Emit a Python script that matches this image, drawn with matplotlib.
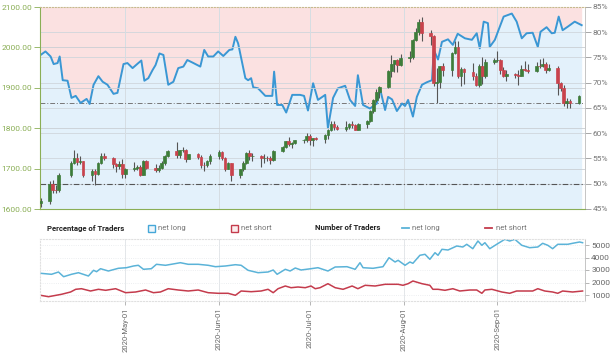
import matplotlib
matplotlib.use("Agg")
import matplotlib.pyplot as plt
import matplotlib.dates as mdates
from matplotlib.patches import Rectangle
from matplotlib.lines import Line2D
from matplotlib.ticker import FuncFormatter
import pandas as pd

plt.rcParams['font.family'] = ['Roboto', 'DejaVu Sans']

start = pd.Timestamp("2020-04-03")

# daily candles, Good Friday missing
candle_dates = pd.bdate_range("2020-04-03", "2020-09-28").drop(pd.Timestamp("2020-04-10"))
opens = [1614, 1620, 1662, 1647, 1646, 1685, 1714, 1727, 1716, 1718, 1683, 1695, 1686, 1714, 1731, 1727, 1712, 1707, 1712,
         1686, 1700, 1702, 1705, 1685, 1718, 1702, 1697, 1701, 1715, 1731, 1743, 1734, 1745, 1747, 1725, 1735, 1728, 1709, 1708, 1719,
         1730, 1740, 1727, 1699, 1713, 1685, 1698, 1715, 1738, 1730, 1731, 1726, 1727, 1726, 1722, 1743, 1754, 1768, 1762, 1763, 1771, 1772,
         1781, 1770, 1775, 1774, 1784, 1795, 1810, 1803, 1799, 1802, 1810, 1808, 1796, 1810, 1818, 1842, 1871, 1889, 1902, 1942, 1958, 1969, 1957,
         1975, 1976, 2019, 2038, 2063, 2035, 2029, 1911, 1915, 1954, 1944, 1986, 2001, 1930, 1946, 1940, 1928, 1908, 1954, 1930, 1964,
         1968, 1970, 1944, 1930, 1934, 1932, 1930, 1947, 1945, 1941, 1955, 1954, 1960, 1944, 1950, 1912, 1900, 1863, 1868, 1862]
highs = [1627, 1670, 1671, 1660, 1690, 1720, 1747, 1738, 1731, 1719, 1698, 1698, 1716, 1739, 1738, 1729, 1715, 1718, 1723,
         1702, 1716, 1709, 1708, 1722, 1722, 1712, 1708, 1718, 1734, 1745, 1765, 1746, 1753, 1749, 1737, 1738, 1734, 1716, 1722, 1737,
         1745, 1744, 1729, 1716, 1714, 1700, 1720, 1740, 1745, 1738, 1733, 1735, 1732, 1732, 1745, 1756, 1769, 1779, 1767, 1772, 1774, 1789,
         1785, 1776, 1778, 1786, 1797, 1818, 1817, 1808, 1817, 1814, 1818, 1810, 1814, 1820, 1844, 1873, 1898, 1905, 1945, 1981, 1970, 1972, 1984,
         1992, 2021, 2049, 2070, 2075, 2042, 2031, 1949, 1955, 1962, 1988, 2015, 2016, 1951, 1948, 1961, 1937, 1960, 1977, 1972, 1975,
         1992, 1972, 1951, 1945, 1937, 1945, 1957, 1966, 1960, 1965, 1972, 1974, 1963, 1960, 1955, 1915, 1906, 1875, 1873, 1882]
lows = [1606, 1612, 1640, 1640, 1642, 1680, 1712, 1708, 1712, 1680, 1670, 1659, 1683, 1712, 1721, 1702, 1691, 1700, 1676,
        1677, 1694, 1697, 1682, 1683, 1700, 1692, 1692, 1700, 1709, 1729, 1726, 1727, 1740, 1717, 1724, 1723, 1701, 1693, 1705, 1712,
        1725, 1722, 1693, 1698, 1670, 1677, 1693, 1711, 1722, 1720, 1705, 1715, 1720, 1712, 1718, 1740, 1750, 1757, 1750, 1760, 1763, 1766,
        1758, 1757, 1771, 1763, 1774, 1793, 1796, 1795, 1794, 1797, 1800, 1795, 1795, 1800, 1815, 1838, 1864, 1875, 1900, 1926, 1940, 1940, 1954,
        1965, 1971, 2017, 2031, 2015, 2006, 1905, 1863, 1900, 1930, 1930, 1983, 1925, 1905, 1910, 1920, 1905, 1903, 1910, 1925, 1960,
        1964, 1935, 1926, 1917, 1925, 1907, 1929, 1941, 1937, 1939, 1950, 1952, 1936, 1941, 1882, 1891, 1855, 1849, 1850, 1859]
closes = [1620, 1662, 1647, 1646, 1683, 1714, 1727, 1716, 1718, 1683, 1695, 1686, 1714, 1731, 1727, 1712, 1707, 1712, 1686,
          1700, 1702, 1705, 1685, 1718, 1702, 1697, 1701, 1715, 1731, 1743, 1734, 1745, 1747, 1725, 1735, 1728, 1709, 1708, 1719, 1730,
          1740, 1727, 1699, 1713, 1685, 1698, 1715, 1738, 1730, 1731, 1726, 1727, 1726, 1722, 1743, 1754, 1768, 1762, 1763, 1771, 1772, 1781,
          1770, 1775, 1774, 1784, 1795, 1810, 1803, 1799, 1802, 1810, 1808, 1796, 1810, 1818, 1842, 1871, 1889, 1902, 1942, 1958, 1969, 1957, 1975,
          1976, 2019, 2038, 2063, 2035, 2029, 1911, 1915, 1954, 1944, 1986, 2001, 1930, 1946, 1940, 1928, 1908, 1954, 1930, 1964, 1968,
          1970, 1944, 1930, 1934, 1932, 1930, 1947, 1945, 1941, 1955, 1954, 1960, 1944, 1950, 1912, 1900, 1863, 1868, 1862, 1880]

# % of traders net long (days after start)
long_pct_day = [0, 1.6, 3.3, 4.3, 5.6, 6.3, 7.3, 8.9, 10.2, 11.6,
                13.2, 15.2, 16.2, 17.5, 19.1, 20.5, 22.1, 24.1, 25.4, 27.4,
                28.7, 30.4, 32.3, 33.3, 34.3, 35.6, 37, 38, 39.3, 40.6,
                42.2, 43.9, 45.5, 47.2, 48.5, 50.2, 52.8, 54.1, 55.4, 57.1,
                58.7, 60.4, 62.4, 63.4, 64.4, 65.3, 67.7, 68.6, 69.6, 70.3,
                71.9, 74.3, 76.6, 77.2, 78.2, 79.9, 81.2, 83.2, 85.8, 87.1,
                88.4, 90.1, 91.7, 94.1, 95, 96.7, 98.3, 100.7, 102.3, 104,
                104.9, 106.6, 108.9, 111.2, 112.2, 113.9, 114.9, 116.2, 117.8, 119.5,
                120.5, 121.5, 123.1, 124.4, 126.1, 127.7, 129.4, 130, 131.4, 132.7,
                134.7, 136.3, 137.9, 140.3, 142.6, 144.2, 145.2, 146.5, 147.9, 148.5,
                150.2, 151.2, 153.1, 155.8, 157.4, 159.1, 160.7, 162.7, 164.4, 165.3,
                167.3, 169, 170, 171.3, 172.6, 174.3, 176.6, 178.9]
long_pct = [75.5, 76.2, 75.2, 73.7, 73.9, 75.2, 70.5, 70.4, 67, 67.4,
            66, 66.8, 65.8, 69.6, 71.3, 70.2, 69.6, 67.8, 68, 73.7,
            73.9, 72.9, 73.9, 74.4, 70.4, 70.9, 72.5, 73.5, 75.8, 75.5,
            69.6, 70.2, 72.9, 73.2, 74.5, 74, 73.2, 76.5, 75.2, 75.2,
            76.2, 75.3, 76.5, 76.6, 79.1, 77.8, 70.9, 70.5, 70.9, 69.1,
            68.9, 67.4, 67.4, 72.2, 65.6, 65.6, 64.1, 67.6, 67.6, 67.4,
            64.5, 69.9, 66.6, 67.6, 61, 67, 68.9, 69.4, 66.6, 65.4,
            71.5, 65.6, 64.9, 65.9, 68.9, 64.6, 67.2, 66.7, 64.4, 65.9,
            65.4, 66.6, 63.3, 67.2, 69.6, 70.1, 70.5, 76.5, 74.6, 78.1,
            78.6, 77.5, 79.7, 78.8, 78.5, 79.8, 76.8, 82.1, 81.8, 77.1,
            78.5, 80.1, 83.1, 83.7, 82.1, 78.8, 79.8, 79.9, 77.1, 80.1,
            81, 79.8, 79.9, 83.1, 80.4, 81.1, 82.1, 81.4]

# number of traders
long_cnt_day = [0, 3.6, 5.9, 7.6, 10.2, 12.5, 15.8, 17.5, 18.5, 19.8,
                22.4, 25.7, 28.4, 30.7, 32.3, 34, 36.6, 38.3, 41.3, 43.2,
                46.2, 48.8, 52.1, 55.4, 57.8, 61.1, 64.4, 66.3, 68.6, 71.9,
                75.2, 76.9, 78.2, 80.9, 82.5, 84.2, 86.1, 89.4, 91.7, 95,
                97.4, 101.3, 104, 105.6, 106.6, 109.9, 113.2, 115.2, 117.2, 118.2,
                120.5, 122.1, 123.1, 125.4, 127.1, 128.7, 130.4, 131.4, 132.7, 134.7,
                137.6, 139.6, 140.9, 142.9, 144.6, 145.9, 146.9, 148.5, 150.8, 153.5,
                155.1, 156.8, 159.1, 161.7, 164.4, 166, 167.7, 169.3, 171, 174.3,
                175.9, 178.2, 179.2]
long_cnt = [2736, 2656, 2840, 2464, 2656, 2784, 2520, 2976, 2864, 3104,
            2920, 3136, 3184, 3320, 3376, 3056, 3104, 3456, 3376, 3456,
            3584, 3456, 3456, 3376, 3264, 3320, 3424, 3376, 2976, 2784,
            2840, 3000, 2656, 3056, 2920, 3160, 3000, 3104, 3184, 2920,
            3240, 3264, 3056, 3584, 3184, 3136, 3264, 3984, 3640, 3776,
            3376, 3640, 3536, 4176, 4256, 3856, 4384, 4176, 4656, 4600,
            4920, 4840, 5056, 4704, 5320, 4976, 5184, 4704, 5056, 5456,
            5320, 5456, 4976, 4784, 4840, 5136, 4976, 4704, 5056, 5056,
            5136, 5240, 5184]
short_cnt_day = [0, 2.6, 6.9, 9.9, 11.6, 13.5, 16.5, 19.1, 21.5, 24.8,
                 28.1, 31.4, 34.7, 37.3, 39.6, 42.2, 45.5, 48.8, 52.1, 55.4,
                 58.7, 62, 64.4, 66.3, 69.6, 72.9, 75.2, 76.9, 78.5, 80.9,
                 82.8, 85.1, 87.5, 89.4, 90.8, 92.4, 95, 97.4, 100, 103,
                 104.9, 107.3, 110.6, 113.9, 116.5, 118.2, 119.8, 121.5, 123.1, 126.1,
                 128.7, 129.7, 131.4, 133.7, 136.3, 138.6, 141.9, 144.2, 145.9, 146.9,
                 149.2, 152.5, 155.1, 157.4, 160.1, 162.7, 164.4, 166.7, 169.3, 171,
                 172.6, 175.9, 179.2]
short_cnt = [976, 864, 1056, 1240, 1456, 1504, 1320, 1456, 1376, 1504,
             1184, 1240, 1400, 1184, 1240, 1504, 1400, 1320, 1400, 1184,
             1136, 1136, 976, 1320, 1264, 1320, 1456, 1184, 1504, 1720,
             1584, 1640, 1584, 1720, 1504, 1584, 1904, 1584, 1456, 1720,
             1504, 1776, 1720, 1856, 1856, 1856, 1776, 1904, 2120, 1904,
             1776, 1456, 1456, 1376, 1504, 1320, 1400, 1400, 1136, 1400,
             1456, 1240, 1136, 1320, 1320, 1320, 1504, 1320, 1240, 1136,
             1320, 1240, 1320]

def to_dates(days):
    return start + pd.to_timedelta(days, unit="D")

GREEN_AX = "#8aae55"
GRID = "#d5dde3"
TXT = "#777777"
xmin, xmax = start - pd.Timedelta(hours=5), start + pd.Timedelta(days=180)
months = pd.date_range("2020-05-01", "2020-09-01", freq="MS")

fig = plt.figure(figsize=(6.15, 3.55), dpi=100)
ax = fig.add_axes([40/615, 1-209/355, 545/615, 202/355])
ax2 = ax.twinx()
ax.set_zorder(ax2.get_zorder() + 1)
ax.patch.set_visible(False)

# sentiment background
pd_dates = to_dates(long_pct_day)
ax2.fill_between(pd_dates, long_pct, 45, color="#e3f1fb", lw=0, zorder=0)
ax2.fill_between(pd_dates, long_pct, 85, color="#fbe1e1", lw=0, zorder=0)
ax2.plot(pd_dates, long_pct, color="#3a97d4", lw=1.4, zorder=3)
ax2.set_ylim(45, 85)
ax2.set_yticks(range(45, 90, 5))
ax2.yaxis.set_major_formatter(FuncFormatter(lambda v, p: f"{v:.0f}%"))
for v in range(50, 85, 5):
    ax2.axhline(v, color="#cfd6dc", lw=0.6, zorder=1)
ax2.axhline(50, color="#555555", lw=0.8, ls=(0, (5, 2, 1, 2)), zorder=2)
ax2.axhline(66, color="#777777", lw=0.7, ls=(0, (5, 2, 1, 2)), zorder=2)
for m in months:
    ax2.axvline(m, color=GRID, lw=0.7, zorder=1)

# candles
up = [c >= o for o, c in zip(opens, closes)]
cols = ["#3e7d3a" if u else "#c9434d" for u in up]
ax.vlines(candle_dates, lows, highs, color="#555555", lw=0.8, zorder=3)
ax.bar(candle_dates, [c - o for o, c in zip(opens, closes)], bottom=opens, width=0.9,
       color=cols, edgecolor=cols, lw=0.5, zorder=4)
ax.set_ylim(1600, 2100)
ax.set_yticks(range(1600, 2101, 100))
ax.yaxis.set_major_formatter(FuncFormatter(lambda v, p: f"{v:.2f}"))
for v in range(1700, 2100, 100):
    ax.axhline(v, color="#c9cfd4", lw=0.6, zorder=1)
ax.set_xlim(xmin, xmax)
ax.set_xticks([])

ax.tick_params(axis="y", colors=GREEN_AX, labelsize=6, length=4, width=0.6, pad=1.5)
ax2.tick_params(axis="y", colors="#999999", labelcolor=TXT, labelsize=6, length=4, width=0.6, pad=1.5)
ax.spines["left"].set_color(GREEN_AX)
ax.spines["bottom"].set_color(GREEN_AX)
ax.spines["top"].set_color("#c7b98e")
ax.spines["top"].set_linestyle(":")
ax.spines["right"].set_visible(False)
for s in ["left", "bottom", "top"]:
    ax2.spines[s].set_visible(False)
ax2.spines["right"].set_color("#bbbbbb")
ax2.spines["right"].set_linewidth(0.6)

# bottom panel: number of traders
ax3 = fig.add_axes([40/615, 1-301/355, 545/615, 62/355])
ax3.plot(to_dates(long_cnt_day), long_cnt, color="#5bb3d8", lw=1.1)
ax3.plot(to_dates(short_cnt_day), short_cnt, color="#c43b4c", lw=1.1)
ax3.set_ylim(520, 5480)
ax3.set_yticks(range(1000, 5001, 1000))
ax3.yaxis.tick_right()
ax3.set_xlim(xmin, xmax)
ax3.set_xticks(months)
ax3.xaxis.set_major_formatter(mdates.DateFormatter("%Y-%b-%d"))
ax3.tick_params(axis="x", rotation=90, labelsize=5.5, colors="#aaaaaa", labelcolor="#666666", length=3, width=0.6, pad=1.5)
ax3.tick_params(axis="y", labelsize=6, colors="#aaaaaa", labelcolor="#666666", length=3, width=0.6, pad=1.5)
ax3.grid(True, color="#e6e9ec", lw=0.6, ls=":")
for m in months:
    ax3.axvline(m, color="#e3e6e9", lw=0.7, zorder=0)
for s in ["left", "top", "bottom"]:
    ax3.spines[s].set_color("#e0e0e0")
    ax3.spines[s].set_linestyle(":")
ax3.spines["right"].set_color("#bbbbbb")
ax3.spines["right"].set_linewidth(0.6)

# legend row
ly = 1 - 228/355
fig.text(47/615, ly, "Percentage of Traders", fontsize=5.6, fontweight="bold", color="#222222", va="center")
fig.add_artist(Rectangle((148/615, 1-232/355), 7/615, 7/355, transform=fig.transFigure,
                         facecolor="#eef6fb", edgecolor="#45a7d8", lw=1))
fig.text(158/615, ly, "net long", fontsize=5.6, color=TXT, va="center")
fig.add_artist(Rectangle((231/615, 1-232/355), 7/615, 7/355, transform=fig.transFigure,
                         facecolor="#fbeeee", edgecolor="#c43b4c", lw=1))
fig.text(241/615, ly, "net short", fontsize=5.6, color=TXT, va="center")
fig.text(315/615, ly, "Number of Traders", fontsize=5.6, fontweight="bold", color="#222222", va="center")
fig.add_artist(Line2D([402/615, 409/615], [ly, ly], transform=fig.transFigure, color="#5bb3d8", lw=1.3))
fig.text(412/615, ly, "net long", fontsize=5.6, color=TXT, va="center")
fig.add_artist(Line2D([485/615, 492/615], [ly, ly], transform=fig.transFigure, color="#c43b4c", lw=1.3))
fig.text(496/615, ly, "net short", fontsize=5.6, color=TXT, va="center")

fig.savefig("out.png", dpi=100, facecolor="white")
